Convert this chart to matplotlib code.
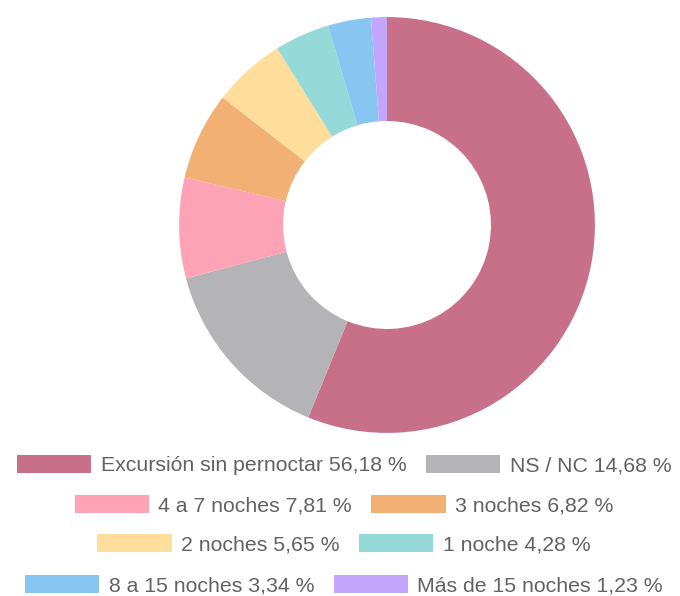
import matplotlib
matplotlib.use('Agg')
import matplotlib.pyplot as plt
from matplotlib.patches import Patch

# datos (porcentajes)
etiquetas = ['Excursión sin pernoctar', 'NS / NC', '4 a 7 noches', '3 noches',
             '2 noches', '1 noche', '8 a 15 noches', 'Más de 15 noches']
valores = [56.18, 14.68, 7.81, 6.82, 5.65, 4.28, 3.34, 1.23]
colores = ['#C87089', '#B4B4B6', '#FEA2B5', '#F2B074',
           '#FEDE9A', '#96D9D9', '#88C6F1', '#C4A5FC']

plt.rcParams['font.family'] = ['Liberation Sans', 'DejaVu Sans']

fig = plt.figure(figsize=(6.8, 5.96), dpi=100)

# donut
ax = fig.add_axes([(387 - 210) / 680, (596 - 225 - 210) / 596, 420 / 680, 420 / 596])
ax.pie(valores, colors=colores, startangle=90, counterclock=False,
       wedgeprops=dict(width=0.5, linewidth=0))
ax.set_xlim(-1.01, 1.01)
ax.set_ylim(-1.01, 1.01)
ax.set_aspect('equal')
ax.axis('off')

# leyenda: filas de dos elementos, centradas
textos = [f"{e} {v:.2f} %".replace('.', ',') for e, v in zip(etiquetas, valores)]
handles = [Patch(facecolor=c, edgecolor='none') for c in colores]
filas_y = [465, 505, 544, 585]
for i, y in enumerate(filas_y):
    leg = fig.legend(handles[2 * i:2 * i + 2], textos[2 * i:2 * i + 2],
                     loc='center', bbox_to_anchor=(344 / 680, (596 - y) / 596),
                     ncol=2, frameon=False, fontsize=15.3,
                     handlelength=3.5, handleheight=0.95,
                     handletextpad=0.45, columnspacing=0.9,
                     borderpad=0, borderaxespad=0)
    for t in leg.get_texts():
        t.set_color('#626262')

fig.savefig('out.png', dpi=100)
